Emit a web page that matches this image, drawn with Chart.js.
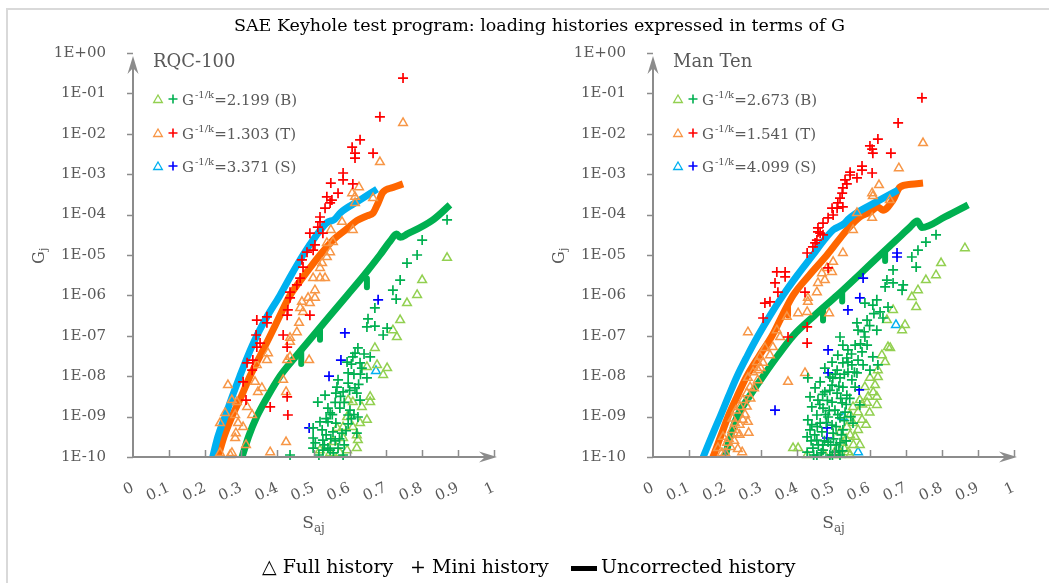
<!DOCTYPE html>
<html>
<head>
<meta charset="utf-8">
<script src="https://cdn.jsdelivr.net/npm/chart.js@4.4.0/dist/chart.umd.min.js"></script>
<style>
  body { margin: 0; background: #fff; }
  #wrap { position: relative; width: 1049px; height: 583px; overflow: hidden; font-family: 'DejaVu Serif', serif; }
  .frame { position: absolute; left: 6px; top: 8px; width: 1100px; height: 600px; border-top: 2px solid #d9d9d9; border-left: 2px solid #d9d9d9; }
  .title { position: absolute; left: 15px; top: 14px; width: 1049px; text-align: center; font-size: 17.5px; line-height: 22px; color: #000; }
  .pane { position: absolute; top: 0; }
  .leg { position: absolute; top: 554px; font-size: 19px; line-height: 24px; color: #000; white-space: nowrap; }
  .bar { display: inline-block; width: 26px; height: 5px; background: #000; vertical-align: middle; margin-right: 4px; }
</style>
</head>
<body>
<div id="wrap">
  <div class="frame"></div>
  <div class="pane" style="left:0;width:520px;height:583px"><canvas id="c1" width="520" height="583"></canvas></div>
  <div class="pane" style="left:520px;width:529px;height:583px"><canvas id="c2" width="529" height="583"></canvas></div>
  <div class="title">SAE Keyhole test program: loading histories expressed in terms of G</div>
  <div class="leg" style="left:262px">&#9651; Full history</div>
  <div class="leg" style="left:410px">+ Mini history</div>
  <div class="leg" style="left:571px"><span class="bar"></span>Uncorrected history</div>
</div>
<script>
// axis ticks
const sTicks = [0, 0.1, 0.2, 0.3, 0.4, 0.5, 0.6, 0.7, 0.8, 0.9, 1];
const gTicks = [1, 1e-1, 1e-2, 1e-3, 1e-4, 1e-5, 1e-6, 1e-7, 1e-8, 1e-9, 1e-10];

// legend values  G^-1/k
const rqcGk = ['2.199 (B)', '1.303 (T)', '3.371 (S)'];
const manGk = ['2.673 (B)', '1.541 (T)', '4.099 (S)'];

// points as [Saj, log10(Gj)]
// RQC-100
const rqcLineS = [[0.213,-10.3],[0.235,-9.5],[0.255,-9.0],[0.275,-8.5],[0.296,-8.0],[0.318,-7.5],[0.343,-7.0],[0.373,-6.5],[0.407,-6.0],[0.438,-5.5],[0.471,-5.0],[0.505,-4.55],[0.537,-4.2],[0.558,-4.12],[0.575,-3.95],[0.625,-3.66],[0.676,-3.37]];
const rqcLineT = [[0.226,-10.3],[0.252,-9.5],[0.274,-9.0],[0.300,-8.5],[0.324,-8.0],[0.352,-7.5],[0.380,-7.0],[0.407,-6.5],[0.435,-6.0],[0.475,-5.5],[0.518,-5.0],[0.558,-4.6],[0.593,-4.35],[0.620,-4.15],[0.648,-4.03],[0.665,-3.96],[0.679,-3.71],[0.692,-3.45],[0.720,-3.33],[0.748,-3.24]];
const rqcLineB = [[0.290,-10.3],[0.302,-10.0],[0.320,-9.5],[0.343,-9.0],[0.373,-8.5],[0.407,-8.0],[0.452,-7.5],[0.499,-7.0],[0.546,-6.5],[0.593,-6.0],[0.640,-5.5],[0.684,-5.0],[0.712,-4.66],[0.730,-4.48],[0.740,-4.56],[0.760,-4.48],[0.831,-4.13],[0.878,-3.76]];
// short drips hanging under the uncorrected green curve
const rqcDripsB = [[[0.648,-5.58],[0.648,-5.80]], [[0.518,-6.82],[0.518,-7.10]], [[0.466,-7.40],[0.466,-7.70]]];

const rqcMiniT = [[0.748,-0.62],[0.684,-1.58],[0.629,-2.15],[0.607,-2.33],[0.615,-2.48],[0.615,-2.60],[0.665,-2.48],[0.582,-2.97],[0.582,-3.14],[0.548,-3.22],[0.609,-3.24],[0.568,-3.47],[0.537,-3.56],[0.551,-3.64],[0.546,-3.71],[0.532,-3.84],[0.518,-4.06],[0.518,-4.18],[0.512,-4.31],[0.490,-4.46],[0.526,-4.46],[0.504,-4.75],[0.482,-4.93],[0.499,-4.88],[0.468,-5.12],[0.471,-5.30],[0.463,-5.57],[0.454,-5.74],[0.435,-5.92],[0.435,-6.06],[0.429,-6.36],[0.427,-6.49],[0.490,-6.49],[0.371,-6.53],[0.343,-6.61],[0.371,-6.68],[0.416,-6.98],[0.341,-6.98],[0.352,-7.18],[0.343,-7.28],[0.427,-7.28],[0.332,-7.60],[0.316,-7.67],[0.330,-7.85],[0.305,-8.14],[0.427,-8.51],[0.313,-8.59],[0.380,-8.76],[0.429,-8.96]];
const rqcFullT = [[0.748,-1.73],[0.684,-2.70],[0.626,-3.32],[0.607,-3.47],[0.615,-3.56],[0.615,-3.71],[0.665,-3.59],[0.579,-4.18],[0.548,-4.38],[0.609,-4.38],[0.554,-4.68],[0.537,-4.70],[0.546,-4.93],[0.537,-5.05],[0.524,-5.20],[0.518,-5.32],[0.499,-5.57],[0.518,-5.57],[0.532,-5.57],[0.504,-5.87],[0.485,-6.06],[0.504,-6.06],[0.468,-6.16],[0.490,-6.19],[0.463,-6.31],[0.471,-6.41],[0.460,-6.68],[0.454,-6.91],[0.435,-7.05],[0.435,-7.15],[0.435,-7.52],[0.427,-7.60],[0.488,-7.60],[0.374,-7.43],[0.371,-7.60],[0.343,-7.72],[0.338,-8.14],[0.416,-8.09],[0.357,-8.29],[0.346,-8.39],[0.424,-8.39],[0.263,-8.22],[0.274,-8.59],[0.288,-8.64],[0.316,-8.76],[0.330,-8.96],[0.283,-8.96],[0.255,-8.91],[0.241,-9.16],[0.291,-9.16],[0.305,-9.26],[0.285,-9.41],[0.283,-9.53],[0.313,-9.70],[0.269,-9.95],[0.380,-9.88],[0.424,-9.63],[0.241,-9.90],[0.274,-9.90]];
const rqcMiniB = [[0.870,-4.13],[0.801,-4.63],[0.787,-5.00],[0.759,-5.20],[0.740,-5.62],[0.720,-5.87],[0.729,-6.09],[0.670,-6.31],[0.651,-6.58],[0.648,-6.78],[0.670,-6.76],[0.704,-6.81],[0.693,-6.98],[0.623,-7.30],[0.615,-7.43],[0.609,-7.52],[0.657,-7.52],[0.593,-7.65],[0.629,-7.67],[0.634,-7.80],[0.596,-7.92],[0.648,-8.04],[0.568,-8.09],[0.596,-8.17],[0.565,-8.27],[0.615,-8.29],[0.582,-8.39],[0.562,-8.42],[0.620,-8.42],[0.532,-8.47],[0.512,-8.64],[0.629,-8.59],[0.540,-8.79],[0.573,-8.79],[0.601,-8.84],[0.546,-8.91],[0.596,-8.96],[0.623,-9.01],[0.518,-9.13],[0.540,-9.13],[0.562,-9.16],[0.596,-9.18],[0.499,-9.28],[0.524,-9.33],[0.554,-9.38],[0.579,-9.41],[0.620,-9.41],[0.499,-9.53],[0.526,-9.58],[0.499,-9.78],[0.540,-9.78],[0.568,-9.78],[0.526,-9.83],[0.546,-9.83],[0.582,-9.95],[0.435,-9.95],
  [0.505,-9.65],[0.515,-9.95],[0.530,-9.70],[0.535,-9.45],[0.548,-9.55],[0.555,-9.90],[0.560,-9.60],[0.572,-9.55],[0.585,-9.70],[0.590,-9.35],[0.605,-9.05],[0.612,-8.95],[0.585,-8.65],[0.575,-8.50],[0.560,-8.65],[0.552,-8.95],[0.535,-9.05],[0.600,-8.35],[0.625,-8.20],[0.612,-7.95],[0.640,-7.45],[0.605,-7.70],[0.630,-7.95]];
const rqcFullB = [[0.870,-5.07],[0.801,-5.62],[0.787,-5.99],[0.759,-6.19],[0.740,-6.61],[0.720,-6.86],[0.731,-7.03],[0.670,-7.30],[0.704,-7.80],[0.693,-7.97],[0.648,-7.77],[0.676,-7.72],[0.657,-8.51],[0.657,-8.64],[0.634,-8.76],[0.648,-9.08],[0.596,-8.59],[0.609,-8.64],[0.593,-9.01],[0.629,-9.16],[0.609,-9.26],[0.582,-9.26],[0.565,-9.28],[0.620,-9.46],[0.623,-9.58],[0.582,-9.53],[0.554,-9.63],[0.620,-9.78],[0.593,-9.83],[0.546,-9.90],[0.573,-9.90],[0.518,-9.83]];
const rqcMiniS = [[0.679,-6.11],[0.587,-6.93],[0.576,-7.60],[0.543,-8.00],[0.488,-9.28]];
const rqcFullS = [[0.673,-7.87]];

// Man Ten
const manLineS = [[0.125,-10.3],[0.139,-10.0],[0.162,-9.5],[0.186,-9.0],[0.209,-8.5],[0.233,-8.0],[0.261,-7.5],[0.291,-7.0],[0.324,-6.5],[0.360,-6.0],[0.400,-5.5],[0.443,-5.0],[0.475,-4.62],[0.499,-4.38],[0.530,-4.22],[0.540,-4.12],[0.560,-3.98],[0.620,-3.68],[0.679,-3.39]];
const manLineT = [[0.152,-10.3],[0.166,-10.0],[0.187,-9.5],[0.208,-9.0],[0.233,-8.5],[0.260,-8.0],[0.294,-7.5],[0.330,-7.0],[0.358,-6.5],[0.388,-6.0],[0.433,-5.5],[0.482,-5.0],[0.537,-4.38],[0.573,-4.06],[0.601,-3.94],[0.623,-3.81],[0.637,-3.89],[0.665,-3.64],[0.684,-3.32],[0.715,-3.25],[0.748,-3.22]];
const manLineB = [[0.186,-10.3],[0.199,-10.0],[0.214,-9.5],[0.233,-9.0],[0.267,-8.5],[0.305,-8.0],[0.345,-7.5],[0.388,-7.0],[0.447,-6.5],[0.510,-6.0],[0.570,-5.5],[0.629,-5.0],[0.675,-4.62],[0.712,-4.31],[0.732,-4.16],[0.745,-4.32],[0.810,-4.05],[0.873,-3.76]];
const manDripsB = [[[0.643,-4.90],[0.643,-5.15]], [[0.524,-5.90],[0.524,-6.15]], [[0.471,-6.32],[0.471,-6.62]]];
const manDripsT = [[[0.374,-6.25],[0.374,-6.50]]];

const manMiniT = [[0.745,-1.11],[0.679,-1.73],[0.623,-2.13],[0.601,-2.30],[0.607,-2.38],[0.609,-2.48],[0.659,-2.48],[0.579,-2.80],[0.579,-2.90],[0.607,-2.97],[0.546,-2.95],[0.546,-3.02],[0.565,-3.09],[0.532,-3.14],[0.537,-3.24],[0.526,-3.34],[0.524,-3.47],[0.518,-3.59],[0.512,-3.71],[0.526,-3.81],[0.510,-3.84],[0.496,-3.84],[0.499,-4.01],[0.485,-4.08],[0.471,-4.21],[0.457,-4.33],[0.463,-4.46],[0.454,-4.63],[0.443,-4.80],[0.457,-4.43],[0.471,-4.50],[0.449,-4.70],[0.427,-4.95],[0.485,-5.32],[0.343,-5.42],[0.366,-5.42],[0.366,-5.54],[0.338,-5.69],[0.346,-5.92],[0.421,-5.92],[0.324,-6.16],[0.310,-6.19],[0.305,-6.56],[0.427,-6.78],[0.374,-7.03],[0.427,-7.18]];
const manFullT = [[0.748,-2.23],[0.681,-2.85],[0.626,-3.27],[0.607,-3.47],[0.609,-3.54],[0.656,-3.64],[0.607,-4.08],[0.565,-3.96],[0.554,-4.38],[0.526,-4.95],[0.499,-5.17],[0.482,-5.32],[0.468,-5.45],[0.496,-5.42],[0.476,-5.62],[0.457,-5.69],[0.454,-5.92],[0.429,-6.06],[0.429,-6.16],[0.427,-6.41],[0.402,-6.44],[0.371,-6.53],[0.488,-6.44],[0.263,-6.91],[0.343,-6.86],[0.352,-7.03],[0.332,-7.28],[0.310,-7.30],[0.324,-7.48],[0.296,-7.52],[0.305,-7.67],[0.288,-7.65],[0.291,-7.85],[0.277,-7.90],[0.263,-8.04],[0.269,-8.27],[0.260,-8.42],[0.249,-8.59],[0.241,-8.76],[0.249,-9.08],[0.263,-9.13],[0.227,-9.16],[0.219,-9.33],[0.233,-9.41],[0.194,-9.50],[0.205,-9.65],[0.180,-9.78],[0.191,-9.90],[0.247,-9.88],[0.374,-8.14],[0.421,-7.92],
  [0.200,-9.90],[0.215,-9.75],[0.210,-9.55],[0.225,-9.60],[0.235,-9.80],[0.240,-9.45],[0.220,-9.05],[0.230,-8.85],[0.240,-9.20],[0.255,-8.95],[0.260,-8.75],[0.270,-8.55],[0.265,-9.40],[0.280,-8.30],[0.290,-8.10],[0.298,-7.80]];
const manMiniB = [[0.784,-4.50],[0.756,-4.68],[0.734,-4.88],[0.717,-5.05],[0.729,-5.30],[0.665,-5.37],[0.648,-5.62],[0.665,-5.69],[0.693,-5.74],[0.690,-5.87],[0.643,-5.79],[0.620,-6.11],[0.609,-6.24],[0.587,-6.19],[0.651,-6.29],[0.629,-6.41],[0.593,-6.61],[0.565,-6.68],[0.637,-6.56],[0.620,-6.86],[0.568,-6.86],[0.587,-7.03],[0.518,-7.03],[0.526,-7.23],[0.560,-7.23],[0.593,-7.23],[0.540,-7.35],[0.512,-7.48],[0.579,-7.40],[0.609,-7.52],[0.537,-7.55],[0.496,-7.65],[0.526,-7.67],[0.551,-7.72],[0.582,-7.72],[0.623,-7.72],[0.476,-7.80],[0.510,-7.85],[0.540,-7.90],[0.565,-7.92],[0.601,-7.85],[0.490,-8.02],[0.518,-8.04],[0.551,-8.09],[0.429,-8.04],[0.463,-8.14],[0.496,-8.22],[0.526,-8.27],[0.560,-8.27],[0.449,-8.29],[0.476,-8.39],[0.510,-8.42],[0.537,-8.47],[0.573,-8.71],[0.435,-8.51],[0.457,-8.59],[0.496,-8.64],[0.524,-8.66],[0.440,-8.76],[0.471,-8.79],[0.504,-8.84],[0.532,-8.89],[0.454,-8.96],[0.485,-9.01],[0.518,-9.03],[0.429,-9.08],[0.463,-9.16],[0.496,-9.21],[0.554,-9.16],[0.435,-9.33],[0.468,-9.38],[0.499,-9.41],[0.526,-9.33],[0.427,-9.50],[0.454,-9.58],[0.485,-9.63],[0.518,-9.65],[0.443,-9.78],[0.471,-9.83],[0.504,-9.88],[0.427,-9.88],[0.454,-9.95],[0.490,-9.95],[0.518,-9.95],
  [0.440,-9.20],[0.448,-9.45],[0.458,-9.70],[0.466,-9.90],[0.475,-9.60],[0.480,-9.15],[0.488,-8.85],[0.492,-9.70],[0.500,-9.55],[0.507,-9.25],[0.512,-8.95],[0.515,-9.85],[0.522,-9.45],[0.530,-9.10],[0.535,-8.70],[0.545,-8.55],[0.548,-9.00],[0.455,-9.25],[0.462,-8.70],[0.470,-8.45],[0.478,-8.95],[0.483,-8.60],[0.490,-8.35],[0.498,-8.05],[0.505,-7.95],[0.515,-8.25],[0.520,-8.55],[0.530,-7.95],[0.540,-7.65],[0.550,-7.45],[0.558,-7.90],[0.568,-7.60],[0.575,-7.20],[0.585,-6.90],[0.600,-6.75],[0.612,-6.45],[0.438,-9.60],[0.445,-9.95],[0.470,-9.70],[0.497,-9.95],[0.508,-9.70],[0.525,-9.85],[0.535,-9.60]];
const manFullB = [[0.864,-4.83],[0.798,-5.20],[0.784,-5.50],[0.756,-5.62],[0.734,-5.87],[0.717,-6.04],[0.729,-6.29],[0.665,-6.36],[0.648,-6.61],[0.698,-6.73],[0.690,-6.86],[0.651,-7.28],[0.657,-7.30],[0.634,-7.48],[0.643,-7.65],[0.623,-7.85],[0.623,-8.02],[0.601,-8.04],[0.615,-8.22],[0.587,-8.27],[0.596,-8.51],[0.620,-8.51],[0.573,-8.59],[0.593,-8.66],[0.620,-8.71],[0.554,-8.76],[0.568,-8.89],[0.546,-8.96],[0.579,-9.08],[0.554,-9.16],[0.537,-9.26],[0.568,-9.33],[0.518,-9.38],[0.546,-9.46],[0.573,-9.70],[0.526,-9.65],[0.510,-9.78],[0.540,-9.88],[0.518,-9.95],[0.388,-9.78],[0.402,-9.78],[0.427,-9.95],[0.476,-9.95],[0.546,-9.95],
  [0.500,-9.95],[0.530,-9.80],[0.555,-9.70],[0.560,-9.50],[0.590,-9.20],[0.580,-8.70],[0.600,-8.90],[0.610,-8.40],[0.535,-9.55]];
const manMiniS = [[0.676,-5.05],[0.676,-4.95],[0.582,-5.57],[0.573,-6.06],[0.540,-6.36],[0.485,-7.35],[0.485,-7.92],[0.571,-8.34],[0.338,-8.84],[0.482,-9.28],[0.482,-9.53]];
const manFullS = [[0.673,-6.73],[0.526,-9.01],[0.568,-9.88]];

const colors = {
  triB: '#92d050', plusB: '#00b050', lineB: '#00b050',
  triT: '#f79646', plusT: '#ff0000', lineT: '#ff6600',
  triS: '#00b0f0', plusS: '#0000ff', lineS: '#00b0f0'
};
const axisColor = '#8c8c8c';
const textColor = '#595959';
const serif = "'DejaVu Serif', serif";

function toPoints(arr) {
  return arr.map(([s, lg]) => ({ x: s, y: Math.pow(10, lg) }));
}

function lineSet(arr, color) {
  return { data: toPoints(arr), showLine: true, borderColor: color, borderWidth: 7, pointRadius: 0,
    cubicInterpolationMode: 'monotone', borderCapStyle: 'butt', borderJoinStyle: 'round', order: 5,
    clip: { left: 0, top: 0, right: 0, bottom: 0 } };
}
function dripSet(arr, color) {
  return { data: toPoints(arr), showLine: true, borderColor: color, borderWidth: 6, pointRadius: 0,
    borderCapStyle: 'round', order: 5, clip: false };
}
function triSet(arr, color) {
  return { data: toPoints(arr), pointStyle: 'triangle', pointRadius: 5, borderWidth: 1.5,
    borderColor: color, backgroundColor: 'rgba(0,0,0,0)', order: 2, clip: false };
}
function plusSet(arr, color) {
  return { data: toPoints(arr), pointStyle: 'cross', pointRadius: 5, borderWidth: 1.7,
    borderColor: color, backgroundColor: color, order: 1, clip: false };
}

function drawTri(ctx, x, y, r, color) {
  ctx.beginPath();
  for (let i = 0; i < 3; i++) {
    const a = i * 2 * Math.PI / 3;
    const px = x + Math.sin(a) * r, py = y - Math.cos(a) * r;
    i ? ctx.lineTo(px, py) : ctx.moveTo(px, py);
  }
  ctx.closePath();
  ctx.strokeStyle = color; ctx.lineWidth = 1.3; ctx.stroke();
}
function drawPlus(ctx, x, y, r, color) {
  ctx.beginPath();
  ctx.moveTo(x - r, y); ctx.lineTo(x + r, y);
  ctx.moveTo(x, y - r); ctx.lineTo(x, y + r);
  ctx.strokeStyle = color; ctx.lineWidth = 1.6; ctx.stroke();
}
function arrowHead(ctx, tx, ty, dx, dy) {
  const len = 18, half = 5.5, notch = 12;
  const nx = -dy, ny = dx;
  ctx.beginPath();
  ctx.moveTo(tx, ty);
  ctx.lineTo(tx - dx * len + nx * half, ty - dy * len + ny * half);
  ctx.lineTo(tx - dx * notch, ty - dy * notch);
  ctx.lineTo(tx - dx * len - nx * half, ty - dy * len - ny * half);
  ctx.closePath();
  ctx.fillStyle = axisColor; ctx.fill();
}

const overlay = {
  id: 'overlay',
  afterDraw(chart, args, opts) {
    const { ctx, chartArea: a, scales: { x, y } } = chart;
    ctx.save();
    // axes with arrows
    ctx.strokeStyle = axisColor; ctx.lineWidth = 2;
    ctx.beginPath();
    ctx.moveTo(a.left, a.bottom); ctx.lineTo(a.left, a.top + 10);
    ctx.moveTo(a.left, a.bottom); ctx.lineTo(a.right - 5, a.bottom);
    ctx.stroke();
    arrowHead(ctx, a.left, a.top + 3, 0, -1);
    arrowHead(ctx, a.right + 3, a.bottom, 1, 0);
    ctx.lineWidth = 1.5;
    ctx.beginPath();
    gTicks.forEach(v => { const py = Math.round(y.getPixelForValue(v)) + 0.5; ctx.moveTo(a.left - 6, py); ctx.lineTo(a.left, py); });
    sTicks.slice(1).forEach(v => { const px = Math.round(x.getPixelForValue(v)) + 0.5; ctx.moveTo(px, a.bottom); ctx.lineTo(px, a.bottom - 7); });
    ctx.stroke();

    // axis titles
    ctx.fillStyle = textColor;
    ctx.textBaseline = 'alphabetic';
    ctx.font = '17px ' + serif;
    const sW = ctx.measureText('S').width;
    ctx.font = '12px ' + serif;
    const ajW = ctx.measureText('aj').width;
    const cx = (a.left + a.right) / 2 - (sW + ajW) / 2;
    ctx.font = '17px ' + serif; ctx.fillText('S', cx, 528);
    ctx.font = '12px ' + serif; ctx.fillText('aj', cx + sW, 532);

    ctx.save();
    ctx.translate(44, (a.top + a.bottom) / 2);
    ctx.rotate(-Math.PI / 2);
    ctx.font = '16px ' + serif;
    const gW = ctx.measureText('G').width;
    ctx.fillText('G', -(gW + 5) / 2, 0);
    ctx.font = '11px ' + serif;
    ctx.fillText('j', -(gW + 5) / 2 + gW, 3);
    ctx.restore();

    // inset legend
    const lx = a.left;
    ctx.font = '18px ' + serif;
    ctx.fillText(opts.name, lx + 20, 67);
    const rows = [[colors.triB, colors.plusB], [colors.triT, colors.plusT], [colors.triS, colors.plusS]];
    [99, 133, 166].forEach((ry, i) => {
      drawTri(ctx, lx + 25, ry + 1, 5, rows[i][0]);
      drawPlus(ctx, lx + 40, ry, 4.5, rows[i][1]);
      ctx.fillStyle = textColor;
      let tx = lx + 49;
      ctx.font = '15px ' + serif; ctx.fillText('G', tx, ry + 6);
      tx += ctx.measureText('G').width + 1;
      ctx.font = '10px ' + serif; ctx.fillText('-1/k', tx, ry - 1);
      tx += ctx.measureText('-1/k').width;
      ctx.font = '15px ' + serif; ctx.fillText('=' + opts.values[i], tx, ry + 6);
    });
    ctx.restore();
  }
};

function makeChart(id, name, values, rightPad, sets) {
  const drips = [];
  (sets.dripsB || []).forEach(d => drips.push(dripSet(d, colors.lineB)));
  (sets.dripsT || []).forEach(d => drips.push(dripSet(d, colors.lineT)));
  new Chart(document.getElementById(id), {
    type: 'scatter',
    data: {
      datasets: [
        lineSet(sets.lineS, colors.lineS), lineSet(sets.lineT, colors.lineT), lineSet(sets.lineB, colors.lineB),
        ...drips,
        triSet(sets.fullB, colors.triB), triSet(sets.fullT, colors.triT), triSet(sets.fullS, colors.triS),
        plusSet(sets.miniB, colors.plusB), plusSet(sets.miniT, colors.plusT), plusSet(sets.miniS, colors.plusS)
      ]
    },
    options: {
      responsive: false,
      animation: false,
      layout: { padding: { left: 0, right: rightPad, top: 53, bottom: 56 } },
      plugins: { legend: { display: false }, tooltip: { enabled: false }, overlay: { name: name, values: values } },
      scales: {
        x: {
          type: 'linear', min: 0, max: 1,
          grid: { display: false }, border: { display: false },
          afterBuildTicks: s => { s.ticks = sTicks.map(v => ({ value: v })); },
          afterFit: s => { s.height = 70; },
          ticks: { autoSkip: false, minRotation: 25, maxRotation: 25, padding: 14, color: textColor,
            font: { family: serif, size: 15 }, callback: v => String(v) }
        },
        y: {
          type: 'logarithmic', min: 1e-10, max: 1,
          grid: { display: false }, border: { display: false },
          afterBuildTicks: s => { s.ticks = gTicks.map(v => ({ value: v })); },
          afterFit: s => { s.width = 133; },
          ticks: { padding: 19, color: textColor, font: { family: serif, size: 15 },
            callback: v => {
              const e = Math.round(Math.log10(v));
              return '1E' + (e >= 0 ? '+' : '-') + String(Math.abs(e)).padStart(2, '0');
            } }
        }
      }
    },
    plugins: [overlay]
  });
}

makeChart('c1', 'RQC-100', rqcGk, 26, {
  lineS: rqcLineS, lineT: rqcLineT, lineB: rqcLineB, dripsB: rqcDripsB,
  fullB: rqcFullB, fullT: rqcFullT, fullS: rqcFullS,
  miniB: rqcMiniB, miniT: rqcMiniT, miniS: rqcMiniS
});
makeChart('c2', 'Man Ten', manGk, 35, {
  lineS: manLineS, lineT: manLineT, lineB: manLineB, dripsB: manDripsB, dripsT: manDripsT,
  fullB: manFullB, fullT: manFullT, fullS: manFullS,
  miniB: manMiniB, miniT: manMiniT, miniS: manMiniS
});
</script>
</body>
</html>
